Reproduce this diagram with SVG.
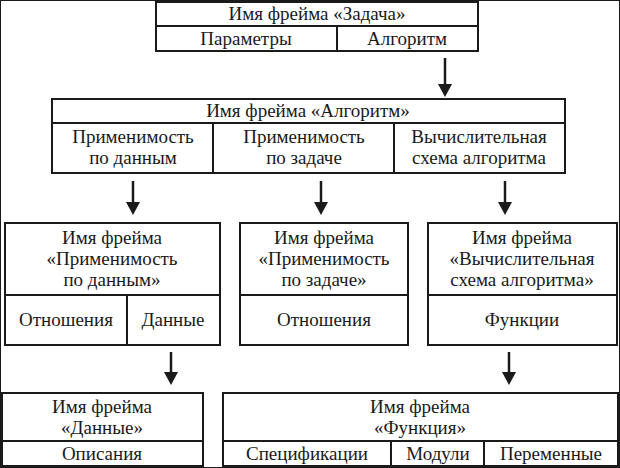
<svg xmlns="http://www.w3.org/2000/svg" width="620" height="468" viewBox="0 0 620 468">
<style>
rect,line.d{fill:#fff;stroke:#1a1a1a;stroke-width:2}
line.d{fill:none}
text{font-family:'Liberation Serif','Times New Roman',serif;font-size:19px;fill:#1a1a1a;text-anchor:middle}
.c line{stroke:#1a1a1a;stroke-width:2.5}
.c path{fill:#1a1a1a}
</style>
<rect width="620" height="468" fill="#fff" stroke="none"/>
<g id="n-task">
<rect x="156" y="2" width="322" height="49"/>
<line class="d" x1="156" y1="26" x2="478" y2="26"/>
<line class="d" x1="337" y1="26" x2="337" y2="51"/>
<text x="317" y="20">Имя фрейма «Задача»</text>
<text x="246" y="45">Параметры</text>
<text x="407" y="45">Алгоритм</text>
</g>
<g id="n-alg">
<rect x="52" y="99" width="513" height="74"/>
<line class="d" x1="52" y1="123" x2="565" y2="123"/>
<line class="d" x1="213" y1="123" x2="213" y2="173"/>
<line class="d" x1="394" y1="123" x2="394" y2="173"/>
<text x="308" y="117">Имя фрейма «Алгоритм»</text>
<text x="133" y="143">Применимость</text>
<text x="133" y="164">по данным</text>
<text x="304" y="143">Применимость</text>
<text x="304" y="164">по задаче</text>
<text x="479" y="143">Вычислительная</text>
<text x="479" y="164">схема алгоритма</text>
</g>
<g id="n-data-app">
<rect x="5" y="223" width="215" height="122"/>
<line class="d" x1="5" y1="295" x2="220" y2="295"/>
<line class="d" x1="127" y1="295" x2="127" y2="345"/>
<text x="112" y="244">Имя фрейма</text>
<text x="112" y="265">«Применимость</text>
<text x="112" y="286">по данным»</text>
<text x="66" y="326">Отношения</text>
<text x="173" y="326">Данные</text>
</g>
<g id="n-task-app">
<rect x="240" y="223" width="168" height="122"/>
<line class="d" x1="240" y1="295" x2="408" y2="295"/>
<text x="324" y="244">Имя фрейма</text>
<text x="324" y="265">«Применимость</text>
<text x="324" y="286">по задаче»</text>
<text x="324" y="326">Отношения</text>
</g>
<g id="n-scheme">
<rect x="428" y="223" width="189" height="122"/>
<line class="d" x1="428" y1="295" x2="617" y2="295"/>
<text x="522" y="244">Имя фрейма</text>
<text x="522" y="265">«Вычислительная</text>
<text x="522" y="286">схема алгоритма»</text>
<text x="522" y="326">Функции</text>
</g>
<g id="n-data">
<rect x="2" y="393" width="201" height="73"/>
<line class="d" x1="2" y1="441" x2="203" y2="441"/>
<text x="102" y="413">Имя фрейма</text>
<text x="102" y="434">«Данные»</text>
<text x="102" y="460">Описания</text>
</g>
<g id="n-func">
<rect x="223" y="393" width="395" height="73"/>
<line class="d" x1="223" y1="441" x2="618" y2="441"/>
<line class="d" x1="391" y1="441" x2="391" y2="466"/>
<line class="d" x1="484" y1="441" x2="484" y2="466"/>
<text x="420" y="413">Имя фрейма</text>
<text x="420" y="434">«Функция»</text>
<text x="307" y="460">Спецификации</text>
<text x="438" y="460">Модули</text>
<text x="551" y="460">Переменные</text>
</g>
<g id="connectors" class="c">
<line x1="445" y1="58" x2="445" y2="86"/><path d="M438,84 L452,84 L445,97 Z"/>
<line x1="133" y1="181" x2="133" y2="204"/><path d="M126,202 L140,202 L133,215 Z"/>
<line x1="321" y1="181" x2="321" y2="204"/><path d="M314,202 L328,202 L321,215 Z"/>
<line x1="505" y1="181" x2="505" y2="204"/><path d="M498,202 L512,202 L505,215 Z"/>
<line x1="171" y1="352" x2="171" y2="374"/><path d="M164,372 L178,372 L171,385 Z"/>
<line x1="509" y1="352" x2="509" y2="374"/><path d="M502,372 L516,372 L509,385 Z"/>
</g>
</svg>
